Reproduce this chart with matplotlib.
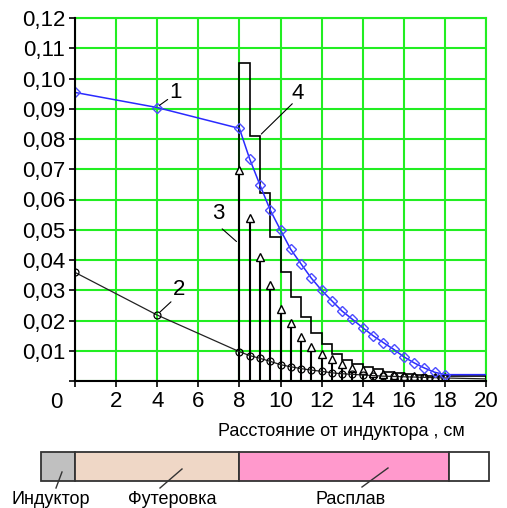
import matplotlib
matplotlib.use("Agg")
import matplotlib.pyplot as plt
from matplotlib.patches import Rectangle
import numpy as np

plt.rcParams['font.family'] = ['Liberation Sans', 'DejaVu Sans']

# ---- data ----
# curve 1 (blue, diamonds)
c1_x = [0, 4, 8, 8.5, 9, 9.5, 10, 10.5, 11, 11.5, 12, 12.5, 13, 13.5, 14, 14.5,
        15, 15.5, 16, 16.5, 17, 17.5, 18, 20]
c1_y = [0.0954, 0.0904, 0.0835, 0.0734, 0.0648, 0.0565, 0.0499, 0.0435, 0.0387,
        0.0340, 0.0300, 0.0265, 0.0231, 0.0204, 0.0176, 0.0150, 0.0127, 0.0105,
        0.0080, 0.0060, 0.0043, 0.0029, 0.0021, 0.0021]
# curve 2 (black, circles)
c2_x = [0, 4, 8, 8.5, 9, 9.5, 10, 10.5, 11, 11.5, 12, 12.5, 13, 13.5, 14, 14.5,
        15, 15.5, 16, 16.5, 17, 17.5, 18, 20]
c2_y = [0.0359, 0.0218, 0.0097, 0.0084, 0.0075, 0.0065, 0.0054, 0.0047, 0.0041,
        0.0036, 0.0032, 0.0027, 0.0024, 0.0022, 0.0020, 0.0018, 0.0016, 0.0015,
        0.0014, 0.0013, 0.0012, 0.0011, 0.0010, 0.0007]
# curve 3 (stems with triangles)
c3_x = [8, 8.5, 9, 9.5, 10, 10.5, 11, 11.5, 12, 12.5, 13, 13.5, 14, 14.5, 15,
        15.5, 16, 16.5, 17, 17.5, 18]
c3_y = [0.0698, 0.0538, 0.0411, 0.0317, 0.0238, 0.0191, 0.0147, 0.0113, 0.0089,
        0.0073, 0.0057, 0.0044, 0.0036, 0.0028, 0.0023, 0.0019, 0.0016, 0.0015,
        0.0014, 0.0013, 0.0012]
# curve 4 (step function)
c4_edges = [8, 8.5, 9, 9.5, 10, 10.5, 11, 11.5, 12, 12.5, 13, 13.5, 14, 14.5, 15,
            15.5, 16, 16.5, 17, 17.5, 18, 20]
c4_vals = [0.105, 0.081, 0.0623, 0.0475, 0.0361, 0.0277, 0.0213, 0.0160, 0.0122,
           0.0090, 0.0070, 0.0056, 0.0047, 0.0039, 0.0031, 0.0025, 0.0022, 0.0020,
           0.0018, 0.0017, 0.0016]

x_ticks = [0, 2, 4, 6, 8, 10, 12, 14, 16, 18, 20]
y_ticks = [0, 0.01, 0.02, 0.03, 0.04, 0.05, 0.06, 0.07, 0.08, 0.09, 0.10, 0.11, 0.12]
y_labels = ['', '0,01', '0,02', '0,03', '0,04', '0,05', '0,06', '0,07', '0,08',
            '0,09', '0,10', '0,11', '0,12']

layer_names = ['Индуктор', 'Футеровка', 'Расплав', '']
layer_edges = [-1.65, 0, 8, 18.2, 20.15]
layer_colors = ['#c0c0c0', '#efd7c6', '#ff99cc', '#ffffff']

W, H = 507, 508
fig = plt.figure(figsize=(W / 100, H / 100), dpi=100)
ax = fig.add_axes([75 / W, 1 - 381 / H, (486 - 75) / W, (381 - 18) / H])

green = '#22ee22'
ax.set_xlim(0, 20)
ax.set_ylim(0, 0.12)
ax.set_xticks(x_ticks)
ax.set_xticklabels([''] + [str(v) for v in x_ticks[1:]], fontsize=16)
ax.set_yticks(y_ticks)
ax.set_yticklabels(y_labels, fontsize=16)
ax.tick_params(axis='both', direction='out', length=4, width=1.2, color='black')
ax.tick_params(axis='x', pad=3)
ax.tick_params(axis='y', pad=3)
ax.grid(True, color=green, lw=1.5)
ax.set_axisbelow(True)
for s in ['top', 'right']:
    ax.spines[s].set_color(green)
    ax.spines[s].set_linewidth(1.5)
for s in ['left', 'bottom']:
    ax.spines[s].set_color('black')
    ax.spines[s].set_linewidth(1.5)
    ax.spines[s].set_zorder(5)
ax.text(-0.9, -0.0035, '0', fontsize=16, ha='center', va='top', clip_on=False)

# curve 4: steps
ax.stairs(c4_vals, c4_edges, baseline=0, color='black', lw=1.2, zorder=3)
# curve 3: stems + triangles
ax.vlines(c3_x, 0, c3_y, color='black', lw=1.5, zorder=3)
ax.plot(c3_x, c3_y, ls='none', marker='^', ms=6, mfc='white', mec='black',
        mew=1.0, zorder=4)
# curve 2
ax.plot(c2_x, c2_y, color='#222222', lw=0.9, marker='o', ms=5, mfc='none',
        mec='black', mew=0.9, markevery=list(range(len(c2_x) - 1)), zorder=4)
# curve 1
ax.plot(c1_x, c1_y, color='#2a2aff', lw=1.1, marker='D', ms=5, mfc='none',
        mec='#4b4bff', mew=1.0, markevery=list(range(len(c1_x) - 1)), zorder=4)

# curve labels
def lab(txt, xy, xytext_line, xytext):
    ax.annotate('', xy=xy, xytext=xytext_line,
                arrowprops=dict(arrowstyle='-', color='black', lw=0.8), zorder=6)
    ax.text(xytext[0], xytext[1], txt, fontsize=16, ha='center', va='center', zorder=6)

lab('1', (4.0, 0.0906), (4.62, 0.0936), (4.87, 0.0955))
lab('2', (4.04, 0.0222), (4.77, 0.0268), (5.06, 0.0301))
lab('3', (7.96, 0.0455), (7.06, 0.0509), (6.96, 0.0555))
lab('4', (8.97, 0.081), (10.67, 0.0923), (10.85, 0.0952))

fig.text(218 / W, 1 - 432 / H, 'Расстояние от индуктора , см', fontsize=13,
         ha='left', va='center')

# layer bar
bax = fig.add_axes([75 / W, 1 - 481 / H, (486 - 75) / W, (481 - 452) / H])
bax.set_xlim(0, 20)
bax.set_ylim(0, 1)
bax.axis('off')
for i in range(len(layer_colors)):
    bax.add_patch(Rectangle((layer_edges[i], 0), layer_edges[i + 1] - layer_edges[i], 1,
                            facecolor=layer_colors[i], edgecolor='#333333', lw=1.3,
                            clip_on=False))

def px(x, y):
    return (x / W, 1 - y / H)

for name, tx, l0, l1 in [('Индуктор', 51, (56, 488), (62, 472)),
                         ('Футеровка', 172, (160, 488), (182, 469)),
                         ('Расплав', 351, (362, 487), (388, 468))]:
    fig.add_artist(plt.Line2D([l0[0] / W, l1[0] / W], [1 - l0[1] / H, 1 - l1[1] / H],
                              color='#333333', lw=1.0))
    fig.text(tx / W, 1 - 500 / H, name, fontsize=13, ha='center', va='center')

fig.savefig('out.png', dpi=100)
